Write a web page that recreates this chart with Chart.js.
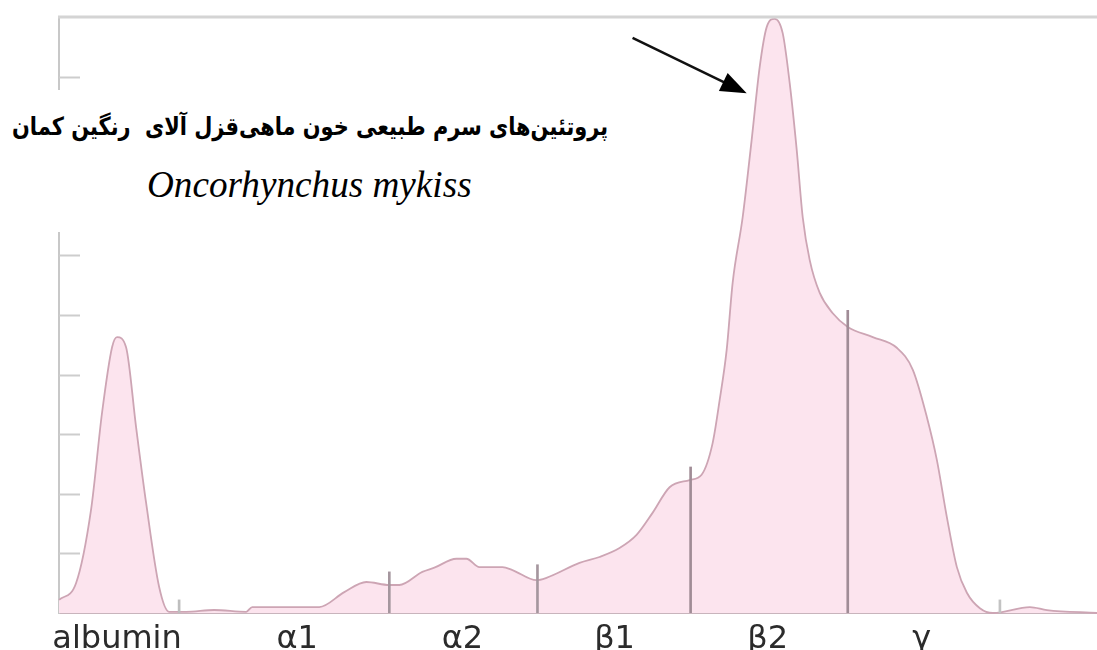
<!DOCTYPE html>
<html>
<head>
<meta charset="utf-8">
<script src="https://cdn.jsdelivr.net/npm/chart.js@4.4.1/dist/chart.umd.min.js"></script>
<style>
  body { margin: 0; background: #fff; }
  #wrap { position: relative; width: 1097px; height: 650px; }
  #titleBox { position: absolute; left: 0; top: 90px; width: 640px; height: 142px; background: #fff; }
  #fa { position: absolute; right: 32px; top: 24px; font-family: "DejaVu Sans", sans-serif; font-weight: bold;
        font-size: 25px; color: #000; white-space: pre; direction: rtl; line-height: 1; transform-origin: right center; }
  #la { position: absolute; left: 147px; top: 76px; font-family: "Liberation Serif", "Times New Roman", serif;
        font-style: italic; font-size: 34px; color: #000; white-space: pre; line-height: 1; }
</style>
</head>
<body>
<div id="wrap">
  <canvas id="chart"></canvas>
  <div id="titleBox">
    <span id="fa">پروتئین‌های سرم طبیعی خون ماهی‌قزل آلای  رنگین کمان</span>
    <span id="la">Oncorhynchus mykiss</span>
  </div>
</div>
<script>
// densitometry trace: position along the strip, relative intensity
const positions = [0, 17, 32, 43, 53, 58, 67, 77, 87, 100, 110, 127, 155, 187, 193, 260, 285, 307, 330, 340,
  363, 375, 397, 407, 420, 443, 453, 477, 487, 520, 540, 560, 577, 593, 610, 630, 642, 653, 660, 667,
  673, 683, 692, 700, 707, 715, 723, 730, 737, 743, 750, 760, 773, 788, 813, 837, 853, 867, 877, 887,
  897, 907, 920, 933, 970, 987, 1037];
const intensity = [0.22, 0.50, 1.73, 3.36, 4.46, 4.63, 4.46, 3.12, 1.85, 0.44, 0.02, 0.02, 0.05, 0.02, 0.10, 0.10, 0.35, 0.52, 0.47, 0.47,
  0.69, 0.76, 0.91, 0.91, 0.77, 0.77, 0.72, 0.55, 0.59, 0.84, 0.94, 1.09, 1.31, 1.68, 2.11, 2.23, 2.32, 2.85, 3.57, 4.41,
  5.54, 6.64, 7.94, 9.16, 9.83, 9.97, 9.73, 8.89, 7.77, 6.64, 5.92, 5.37, 5.03, 4.80, 4.63, 4.45, 4.08, 3.29, 2.57, 1.61,
  0.77, 0.34, 0.08, 0.0, 0.10, 0.05, 0.0];

// fraction boundaries and how high each divider reaches
const dividerPos = [120, 330, 478, 631, 788, 940];
const dividerTop = [0.22, 0.69, 0.81, 2.45, 5.08, 0.22];

// fraction names and where they sit
const fractions = ['albumin', 'α1', 'α2', 'β1', 'β2', 'γ'];
const fractionPos = [58, 238, 403, 555, 708, 862];

const yTicks = [1, 2, 3, 4, 5, 6, 7, 8, 9];
const arrowFrom = {x: 573, y: 9.65};
const arrowTo = {x: 687, y: 8.72};

const frame = {
  id: 'frame',
  afterDraw(chart) {
    const {ctx, chartArea, scales} = chart;
    const y = scales.y;
    ctx.save();
    // top border
    ctx.strokeStyle = 'rgb(212,212,212)';
    ctx.lineWidth = 3;
    ctx.beginPath();
    ctx.moveTo(chartArea.left - 1, chartArea.top);
    ctx.lineTo(chartArea.right, chartArea.top);
    ctx.stroke();
    // inward ticks
    ctx.strokeStyle = 'rgb(205,205,205)';
    ctx.lineWidth = 2;
    yTicks.forEach(v => {
      const py = Math.round(y.getPixelForValue(v)) + 0.5;
      ctx.beginPath();
      ctx.moveTo(chartArea.left, py);
      ctx.lineTo(chartArea.left + 21, py);
      ctx.stroke();
    });
    // arrow
    const x = scales.x;
    const x1 = x.getPixelForValue(arrowFrom.x), y1 = y.getPixelForValue(arrowFrom.y);
    const x2 = x.getPixelForValue(arrowTo.x), y2 = y.getPixelForValue(arrowTo.y);
    const ang = Math.atan2(y2 - y1, x2 - x1);
    ctx.strokeStyle = '#111';
    ctx.fillStyle = '#000';
    ctx.lineWidth = 2.5;
    ctx.beginPath();
    ctx.moveTo(x1, y1);
    ctx.lineTo(x2 - 18 * Math.cos(ang), y2 - 18 * Math.sin(ang));
    ctx.stroke();
    ctx.beginPath();
    ctx.moveTo(x2, y2);
    ctx.lineTo(x2 - 26 * Math.cos(ang) + 10 * Math.sin(ang), y2 - 26 * Math.sin(ang) - 10 * Math.cos(ang));
    ctx.lineTo(x2 - 26 * Math.cos(ang) - 10 * Math.sin(ang), y2 - 26 * Math.sin(ang) + 10 * Math.cos(ang));
    ctx.closePath();
    ctx.fill();
    ctx.restore();
  }
};

const canvas = document.getElementById('chart');
const config = {
  data: {
    datasets: [
      {
        type: 'bar',
        data: dividerPos.map((p, i) => ({x: p, y: dividerTop[i]})),
        backgroundColor: ['rgb(190,190,190)', 'rgb(165,150,158)', 'rgb(165,150,158)', 'rgb(160,140,150)', 'rgb(160,140,150)', 'rgb(195,195,195)'],
        barThickness: 2,
        grouped: false,
        order: 0
      },
      {
        type: 'line',
        data: positions.map((p, i) => ({x: p, y: intensity[i]})),
        borderColor: 'rgb(205,165,180)',
        borderWidth: 1.8,
        backgroundColor: 'rgb(252,228,238)',
        fill: 'origin',
        pointRadius: 0,
        cubicInterpolationMode: 'monotone',
        clip: false,
        order: 1
      }
    ]
  },
  options: {
    responsive: true,
    maintainAspectRatio: false,
    animation: false,
    layout: {padding: {top: 17, right: 0, left: 0, bottom: 0}},
    plugins: {legend: {display: false}, tooltip: {enabled: false}},
    scales: {
      x: {
        type: 'linear',
        offset: false,
        min: 0,
        max: 1037,
        grid: {display: false},
        border: {display: true, color: 'rgb(200,180,188)', width: 2},
        afterBuildTicks: s => { s.ticks = fractionPos.map(v => ({value: v})); },
        afterFit: s => { s.height = 37; },
        ticks: {
          autoSkip: false,
          maxRotation: 0,
          padding: -1,
          color: '#2b2b2b',
          font: {family: 'DejaVu Sans', size: 32},
          callback: (v, i) => fractions[i]
        }
      },
      y: {
        min: 0,
        max: 10,
        grid: {display: false},
        border: {display: true, color: 'rgb(200,200,200)', width: 2},
        ticks: {display: false},
        afterFit: s => { s.width = 59; }
      }
    }
  },
  plugins: [frame]
};
let chart = new Chart(canvas, config);

// squeeze the headings to the widths in the picture
const fa = document.getElementById('fa');
fa.style.transform = 'scaleX(' + (596 / fa.offsetWidth) + ')';
const la = document.getElementById('la');
la.style.fontSize = (34 * 325 / la.offsetWidth) + 'px';
</script>
</body>
</html>
